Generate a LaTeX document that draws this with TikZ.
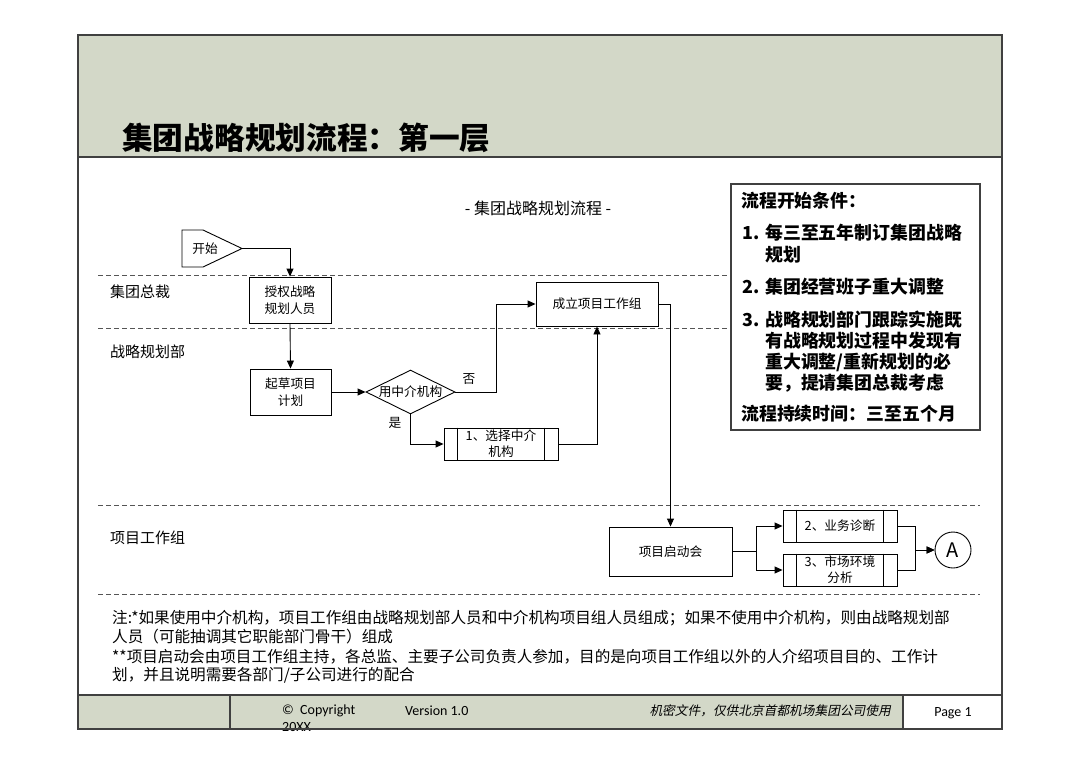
\documentclass[tikz,border=0pt]{standalone}
\usepackage{fontspec}
\setmainfont{Noto Sans CJK SC}
\newfontfamily\lat{Carlito}
\newfontfamily\cjkit[FakeSlant=0.2]{Noto Sans CJK SC}
\usetikzlibrary{shapes.geometric,arrows.meta}
\definecolor{sage}{RGB}{211,216,200}
\definecolor{frame}{RGB}{64,64,64}
\definecolor{lanec}{RGB}{85,85,85}
\tikzset{
  box/.style={draw, line width=0.9pt, align=center, inner sep=0pt,
    font=\fontsize{12.7}{17}\selectfont},
  pbox/.style={box, minimum width=114pt, minimum height=32pt,
    font=\fontsize{12.7}{16}\selectfont},
  arr/.style={line width=0.9pt, -{Triangle[length=8pt,width=7pt]}},
  laneline/.style={line width=0.9pt, lanec, dash pattern=on 5pt off 3pt},
  lanelabel/.style={anchor=west, font=\fontsize{15}{18}\selectfont, inner sep=0pt},
  cond/.style={anchor=west, inner sep=0pt, font=\bfseries\fontsize{17.9}{21}\selectfont},
  note/.style={anchor=west, inner sep=0pt, font=\fontsize{15.6}{19}\selectfont},
}
\begin{document}
\begin{tikzpicture}[x=1pt,y=-1pt]
\useasboundingbox (0,0) rectangle (1080,764);
\fill[white] (0,0) rectangle (1080,764);
% header
\fill[sage] (78,35) rectangle (1002,157);
\node[anchor=west, inner sep=0pt, font=\bfseries\fontsize{30.7}{34}\selectfont] (title) at (122,138) {集团战略规划流程：第一层};
% footer
\fill[sage] (78,695) rectangle (903,729);
\draw[frame, line width=1.2pt] (230,695) -- (230,729);
\draw[frame, line width=1.2pt] (903,695) -- (903,729);
\node[anchor=west, inner sep=0pt, font=\lat\fontsize{14}{16}\selectfont] (copy) at (282,711) {©\ \ Copyright};
\node[anchor=west, inner sep=0pt, font=\lat\fontsize{14}{16}\selectfont] (year) at (282,727) {20XX};
\node[anchor=west, inner sep=0pt, font=\lat\fontsize{14}{16}\selectfont] (ver) at (405,711) {Version 1.0};
\node[anchor=east, inner sep=0pt, font=\cjkit\fontsize{12.7}{15}\selectfont] (conf) at (891,711) {机密文件，仅供北京首都机场集团公司使用};
\node[inner sep=0pt, font=\lat\fontsize{14}{16}\selectfont] (page) at (953,713) {Page 1};
% frame lines
\draw[frame, line width=1.2pt] (78,35) rectangle (1002,729);
\draw[frame, line width=2pt] (78,157) -- (1002,157);
\draw[frame, line width=1.6pt] (78,695) -- (1002,695);
% subtitle
\node[inner sep=0pt, font=\fontsize{16}{19}\selectfont] (sub) at (538,208) {- 集团战略规划流程 -};
% lanes
\draw[laneline] (98,275) -- (731,275);
\draw[laneline] (98,328) -- (731,328);
\draw[laneline] (98,505) -- (980,505);
\draw[laneline] (98,594) -- (980,594);
\node[lanelabel] (l1) at (110,292) {集团总裁};
\node[lanelabel] (l2) at (110,352) {战略规划部};
\node[lanelabel] (l3) at (110,538) {项目工作组};
% start shape
\draw[line width=0.9pt] (182,230) -- (203,230) -- (242,248.5) -- (203,267) -- (182,267) -- cycle;
\coordinate (starttip) at (242,248.5);
\node[inner sep=0pt, font=\fontsize{12.7}{15}\selectfont] (start) at (205,248.5) {开始};
% nodes
\node[box, minimum width=82pt, minimum height=46pt] (auth) at (290,300) {授权战略\\规划人员};
\node[box, minimum width=81pt, minimum height=46pt] (draft) at (290.5,392) {起草项目\\计划};
\node[draw, line width=0.9pt, diamond, minimum width=89pt, minimum height=44pt, inner sep=0pt] (dec) at (410.5,392) {};
\node[inner sep=0pt, font=\fontsize{12.7}{15}\selectfont] (dectext) at (dec.center) {用中介机构};
\node[box, minimum width=122pt, minimum height=44pt] (team) at (597,304) {成立项目工作组};
\node[pbox] (sel) at (501,444) {1、选择中介\\机构};
\node[box, minimum width=123pt, minimum height=49pt] (kick) at (670.5,551.5) {项目启动会};
\node[pbox] (b2) at (840,526) {2、业务诊断};
\node[pbox] (b3) at (840,570) {3、市场环境\\分析};
\node[draw, line width=0.9pt, circle, minimum size=36pt, inner sep=0pt, font=\fontsize{20}{22}\selectfont] (A) at (953,550) {A};
\foreach \n in {sel,b2,b3}{
  \draw[line width=0.9pt] ([xshift=14pt]\n.north west) -- ([xshift=14pt]\n.south west);
  \draw[line width=0.9pt] ([xshift=-14pt]\n.north east) -- ([xshift=-14pt]\n.south east);
}
% labels
\node[inner sep=0pt, font=\fontsize{12.7}{15}\selectfont] (no) at (469,379) {否};
\node[inner sep=0pt, font=\fontsize{12.7}{15}\selectfont] (yes) at (395,423) {是};
% connectors
\draw[arr] (starttip) -| (auth.north);
\draw[arr] (auth.south) -- (draft.north);
\draw[arr] (draft.east) -- (dec.west);
\draw[arr] (dec.east) -- ([xshift=41pt]dec.east) |- (team.west);
\draw[arr] (dec.south) |- (sel.west);
\draw[arr] (sel.east) -| (team.south);
\draw[arr] (team.east) -| (kick.north);
\draw[arr] (kick.east) -- ([xshift=24pt]kick.east) |- (b2.west);
\draw[arr] (kick.east) -- ([xshift=24pt]kick.east) |- (b3.west);
\draw[arr] (b2.east) -- ([xshift=18pt]b2.east) |- (A.west);
\draw[arr] (b3.east) -- ([xshift=18pt]b3.east) |- (A.west);
% conditions box
\draw[frame, line width=1.2pt, fill=white] (731,184) rectangle (980,430);
\node[cond] (c0) at (741,201) {流程开始条件：};
\node[cond] (c1n) at (742,233) {1.};
\node[cond] (c1a) at (765,233) {每三至五年制订集团战略};
\node[cond] (c1b) at (765,255) {规划};
\node[cond] (c2n) at (742,287) {2.};
\node[cond] (c2a) at (765,287) {集团经营班子重大调整};
\node[cond] (c3n) at (742,320) {3.};
\node[cond] (c3a) at (765,320) {战略规划部门跟踪实施既};
\node[cond] (c3b) at (765,341) {有战略规划过程中发现有};
\node[cond] (c3c) at (765,362) {重大调整/重新规划的必};
\node[cond] (c3d) at (765,383) {要，提请集团总裁考虑};
\node[cond] (c4) at (741,414) {流程持续时间：三至五个月};
% notes
\node[note] (n1) at (112,618) {注:*如果使用中介机构，项目工作组由战略规划部人员和中介机构项目组人员组成；如果不使用中介机构，则由战略规划部};
\node[note] (n2) at (112,637) {人员（可能抽调其它职能部门骨干）组成};
\node[note] (n3) at (112,657) {**项目启动会由项目工作组主持，各总监、主要子公司负责人参加，目的是向项目工作组以外的人介绍项目目的、工作计};
\node[note] (n4) at (112,675) {划，并且说明需要各部门/子公司进行的配合};
\end{tikzpicture}
\end{document}
